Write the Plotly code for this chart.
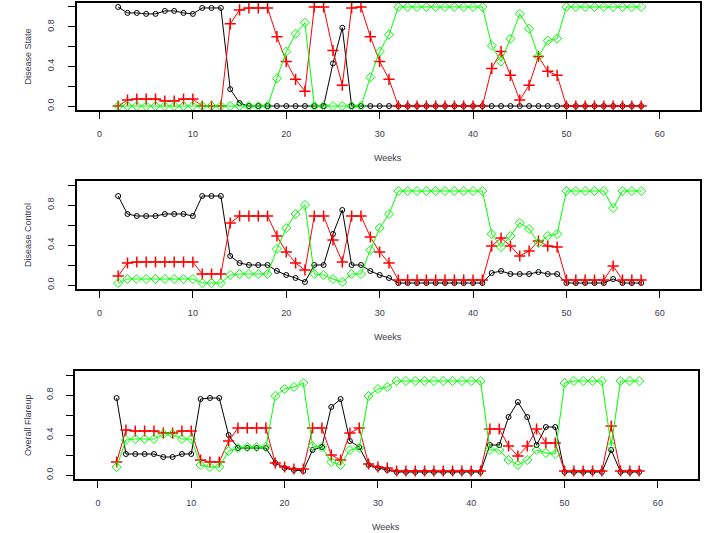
import plotly.graph_objects as go

weeks = [2, 3, 4, 5, 6, 7, 8, 9, 10, 11, 12, 13, 14, 15, 16, 17, 18, 19, 20, 21,
         22, 23, 24, 25, 26, 27, 28, 29, 30, 31, 32, 33, 34, 35, 36, 37, 38, 39, 40,
         41, 42, 43, 44, 45, 46, 47, 48, 49, 50, 51, 52, 53, 54, 55, 56, 57, 58]

# Panel 1: Disease State
ds_black = [1.00, 0.94, 0.94, 0.93, 0.93, 0.96, 0.96, 0.94, 0.93, 0.99, 0.99, 0.99, 0.17, 0.03,
            0.0, 0.0, 0.0, 0.0, 0.0, 0.0, 0.0, 0.0, 0.0, 0.43, 0.79, 0.0, 0.0, 0.0, 0.0, 0.0,
            0.0, 0.0, 0.0, 0.0, 0.0, 0.0, 0.0, 0.0, 0.0, 0.0, 0.0, 0.0, 0.0, 0.0, 0.0, 0.0,
            0.0, 0.0, 0.0, 0.0, 0.0, 0.0, 0.0, 0.0, 0.0, 0.0, 0.0]
ds_red = [0.0, 0.06, 0.07, 0.07, 0.07, 0.05, 0.05, 0.07, 0.07, 0.0, 0.0, 0.0, 0.83, 0.97,
          0.99, 0.99, 0.99, 0.70, 0.45, 0.27, 0.15, 1.0, 1.0, 0.56, 0.21, 0.99, 1.0, 0.70,
          0.45, 0.27, 0.0, 0.0, 0.0, 0.0, 0.0, 0.0, 0.0, 0.0, 0.0, 0.0, 0.38, 0.55, 0.31,
          0.06, 0.21, 0.50, 0.35, 0.31, 0.0, 0.0, 0.0, 0.0, 0.0, 0.0, 0.0, 0.0, 0.0]
ds_green = [0.0, 0.0, 0.0, 0.0, 0.0, 0.0, 0.0, 0.0, 0.0, 0.0, 0.0, 0.0, 0.0, 0.0, 0.0, 0.0,
            0.0, 0.28, 0.55, 0.73, 0.84, 0.0, 0.0, 0.0, 0.0, 0.0, 0.0, 0.29, 0.55, 0.72,
            1.0, 1.0, 1.0, 1.0, 1.0, 1.0, 1.0, 1.0, 1.0, 1.0, 0.61, 0.45, 0.68, 0.93, 0.78,
            0.50, 0.66, 0.68, 1.0, 1.0, 1.0, 1.0, 1.0, 1.0, 1.0, 1.0, 1.0]

# Panel 2: Disease Control
dc_black = [0.89, 0.71, 0.69, 0.69, 0.69, 0.71, 0.71, 0.71, 0.69, 0.89, 0.89, 0.89, 0.29, 0.22,
            0.20, 0.20, 0.20, 0.14, 0.10, 0.07, 0.03, 0.20, 0.20, 0.51, 0.75, 0.20, 0.20, 0.14,
            0.10, 0.07, 0.02, 0.02, 0.02, 0.02, 0.02, 0.02, 0.02, 0.02, 0.02, 0.02, 0.12, 0.14,
            0.11, 0.11, 0.11, 0.13, 0.11, 0.11, 0.02, 0.02, 0.02, 0.02, 0.02, 0.06, 0.02, 0.02,
            0.02]
dc_red = [0.09, 0.22, 0.23, 0.23, 0.23, 0.23, 0.23, 0.23, 0.23, 0.11, 0.11, 0.11, 0.62, 0.69,
          0.69, 0.69, 0.69, 0.49, 0.33, 0.22, 0.15, 0.69, 0.69, 0.45, 0.23, 0.69, 0.69, 0.48,
          0.33, 0.22, 0.05, 0.05, 0.05, 0.05, 0.05, 0.05, 0.05, 0.05, 0.05, 0.05, 0.39, 0.47,
          0.39, 0.29, 0.34, 0.44, 0.39, 0.38, 0.05, 0.05, 0.05, 0.05, 0.05, 0.19, 0.05, 0.05,
          0.05]
dc_green = [0.02, 0.06, 0.06, 0.06, 0.06, 0.06, 0.06, 0.06, 0.06, 0.02, 0.02, 0.02, 0.10, 0.11,
            0.11, 0.11, 0.11, 0.36, 0.57, 0.71, 0.80, 0.11, 0.10, 0.06, 0.03, 0.11, 0.11, 0.35,
            0.57, 0.71, 0.94, 0.94, 0.94, 0.94, 0.94, 0.94, 0.94, 0.94, 0.94, 0.94, 0.51, 0.38,
            0.49, 0.62, 0.56, 0.42, 0.49, 0.51, 0.94, 0.94, 0.94, 0.94, 0.94, 0.77, 0.94, 0.94,
            0.94]

# Panel 3: Overall Flareup
of_black = [0.77, 0.21, 0.21, 0.21, 0.21, 0.18, 0.18, 0.21, 0.21, 0.76, 0.77, 0.77, 0.40, 0.27,
            0.27, 0.27, 0.27, 0.12, 0.07, 0.05, 0.04, 0.25, 0.28, 0.68, 0.76, 0.34, 0.28, 0.10,
            0.07, 0.05, 0.03, 0.03, 0.03, 0.03, 0.03, 0.03, 0.03, 0.03, 0.03, 0.03, 0.30, 0.30,
            0.58, 0.73, 0.58, 0.30, 0.48, 0.48, 0.03, 0.03, 0.03, 0.03, 0.03, 0.25, 0.03, 0.03,
            0.03]
of_red = [0.13, 0.45, 0.44, 0.44, 0.44, 0.42, 0.42, 0.44, 0.44, 0.15, 0.13, 0.13, 0.34, 0.47,
          0.47, 0.47, 0.47, 0.12, 0.08, 0.06, 0.06, 0.47, 0.47, 0.20, 0.15, 0.42, 0.47, 0.11,
          0.08, 0.07, 0.04, 0.04, 0.04, 0.04, 0.04, 0.04, 0.04, 0.04, 0.04, 0.04, 0.46, 0.46,
          0.29, 0.19, 0.29, 0.46, 0.32, 0.32, 0.04, 0.04, 0.04, 0.04, 0.04, 0.49, 0.04, 0.04,
          0.04]
of_green = [0.08, 0.35, 0.36, 0.36, 0.36, 0.41, 0.41, 0.36, 0.36, 0.10, 0.08, 0.08, 0.24, 0.27,
            0.28, 0.28, 0.28, 0.79, 0.86, 0.88, 0.92, 0.29, 0.28, 0.13, 0.10, 0.25, 0.27, 0.79,
            0.86, 0.88, 0.94, 0.94, 0.94, 0.94, 0.94, 0.94, 0.94, 0.94, 0.94, 0.94, 0.25, 0.25,
            0.15, 0.10, 0.15, 0.25, 0.22, 0.21, 0.92, 0.94, 0.94, 0.94, 0.94, 0.29, 0.94, 0.94,
            0.94]

panel_titles = ["Disease State", "Disease Control", "Overall Flareup"]
x_title = "Weeks"
x_tickvals = [0, 10, 20, 30, 40, 50, 60]
y_tickvals = [0.0, 0.2, 0.4, 0.6, 0.8, 1.0]
y_ticktext = ["0.0", "", "0.4", "", "0.8", ""]

W, H = 705, 533
FONT = "Liberation Sans, Arial, sans-serif"
TXT = "#3a3a4a"

# panel pixel boxes: (left, right, top, bottom)
boxes = [(76.5, 700, 3, 110), (76.5, 700, 181, 289), (75, 698, 371, 479)]

panels = [(ds_black, ds_red, ds_green), (dc_black, dc_red, dc_green), (of_black, of_red, of_green)]

fig = go.Figure()
for i, (blk, red, grn) in enumerate(panels):
    xa = "x" if i == 0 else f"x{i+1}"
    ya = "y" if i == 0 else f"y{i+1}"
    fig.add_trace(go.Scatter(x=weeks, y=blk, mode="lines+markers", xaxis=xa, yaxis=ya,
                             line=dict(color="black", width=1),
                             marker=dict(symbol="circle-open", size=5, color="black",
                                         line=dict(width=1, color="black")),
                             showlegend=False))
    fig.add_trace(go.Scatter(x=weeks, y=red, mode="lines+markers", xaxis=xa, yaxis=ya,
                             line=dict(color="#ff0000", width=1),
                             marker=dict(symbol="cross-thin-open", size=8, color="#ff0000",
                                         line=dict(width=1.5, color="#ff0000")),
                             showlegend=False))
    fig.add_trace(go.Scatter(x=weeks, y=grn, mode="lines+markers", xaxis=xa, yaxis=ya,
                             line=dict(color="#00ff00", width=1),
                             marker=dict(symbol="diamond-open", size=7, color="#00ff00",
                                         line=dict(width=1, color="#00ff00")),
                             showlegend=False))

layout = dict(width=W, height=H, margin=dict(l=0, r=0, t=0, b=0),
              paper_bgcolor="white", plot_bgcolor="white",
              font=dict(family=FONT, size=9, color=TXT))
annotations = []
for i, (l, r, t, b) in enumerate(boxes):
    xk = "xaxis" if i == 0 else f"xaxis{i+1}"
    yk = "yaxis" if i == 0 else f"yaxis{i+1}"
    xa = "x" if i == 0 else f"x{i+1}"
    ya = "y" if i == 0 else f"y{i+1}"
    layout[xk] = dict(domain=[l / W, r / W], anchor=ya, range=[-2.46, 64.3],
                      tickvals=x_tickvals, ticks="outside", ticklen=7, tickwidth=1,
                      tickcolor="black", showline=True, linecolor="black", linewidth=1.5,
                      mirror=True, showgrid=False, zeroline=False,
                      ticklabelstandoff=7, tickfont=dict(size=9, color=TXT, family=FONT))
    layout[yk] = dict(domain=[1 - b / H, 1 - t / H], anchor=xa, range=[-0.04, 1.04],
                      tickvals=y_tickvals, ticktext=y_ticktext, ticks="outside", ticklen=7,
                      tickwidth=1, tickcolor="black", showline=True, linecolor="black",
                      linewidth=1.5, mirror=True, showgrid=False, zeroline=False,
                      tickangle=-90, ticklabelstandoff=10,
                      tickfont=dict(size=9, color=TXT, family=FONT))
    annotations.append(dict(text=x_title, xref="paper", yref="paper",
                            x=(l + r) / 2 / W, y=1 - (b + 48) / H, showarrow=False,
                            xanchor="center", yanchor="middle",
                            font=dict(size=9, color=TXT, family=FONT)))
    annotations.append(dict(text=panel_titles[i], xref="paper", yref="paper",
                            x=28 / W, y=1 - (t + b) / 2 / H, showarrow=False, textangle=-90,
                            xanchor="center", yanchor="middle",
                            font=dict(size=9, color=TXT, family=FONT)))
layout["annotations"] = annotations
fig.update_layout(**layout)
fig.write_html("out.html", config={"displayModeBar": False},
               post_script="document.body.style.margin='0';document.body.style.overflow='hidden';")
